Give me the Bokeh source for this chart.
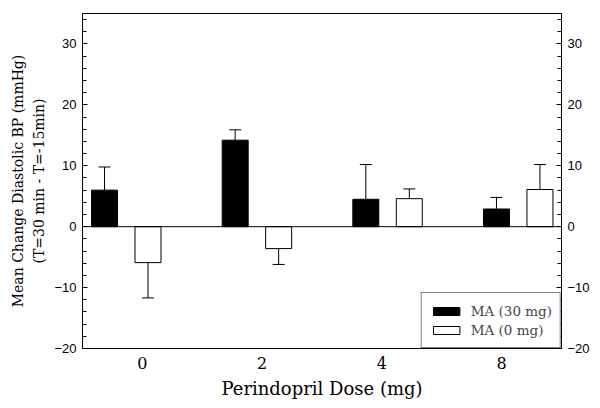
from bokeh.plotting import figure
from bokeh.models import (Range1d, LinearAxis, FixedTicker, SingleIntervalTicker,
                          Whisker, TeeHead, Span, Legend, LegendItem, ColumnDataSource)
from bokeh.embed import file_html
from bokeh.resources import INLINE

# ---- data ----
doses = ["0", "2", "4", "8"]
ma30_mean = [6.0, 14.2, 4.5, 2.9]
ma30_err = [3.8, 1.7, 5.7, 1.9]
ma0_mean = [-5.9, -3.6, 4.6, 6.1]
ma0_err = [5.8, 2.6, 1.6, 4.1]
series_names = ["MA (30 mg)", "MA (0 mg)"]

# ---- layout constants ----
n = len(doses)
step = 1.091
off30 = 0.184
off0 = 0.547
bar_w = 0.217

SERIF = "DejaVu Serif"
SANS = "Liberation Sans"

p = figure(width=600, height=408, output_backend="svg", toolbar_location=None,
           x_range=Range1d(0, n), y_range=Range1d(-20, 35),
           min_border_left=82, min_border_right=39, min_border_top=13,
           min_border_bottom=60)
p.xgrid.visible = False
p.ygrid.visible = False
p.outline_line_color = "black"
p.outline_line_width = 1
p.background_fill_color = "white"
p.border_fill_color = "white"

x30 = [off30 + i * step for i in range(n)]
x0 = [off0 + i * step for i in range(n)]

src30 = ColumnDataSource(dict(x=x30, top=ma30_mean))
src0 = ColumnDataSource(dict(x=x0, top=ma0_mean))

r30 = p.vbar(x="x", top="top", bottom=0, width=bar_w, source=src30,
             fill_color="black", line_color="black", line_width=1)
r0 = p.vbar(x="x", top="top", bottom=0, width=bar_w, source=src0,
            fill_color="white", line_color="black", line_width=1)

# error bars: one-sided, away from zero
xs, means, errs = x30 + x0, ma30_mean + ma0_mean, ma30_err + ma0_err
pos = dict(base=[], lower=[], upper=[])
neg = dict(base=[], lower=[], upper=[])
for x, m, e in zip(xs, means, errs):
    if m >= 0:
        pos["base"].append(x); pos["lower"].append(m); pos["upper"].append(m + e)
    else:
        neg["base"].append(x); neg["lower"].append(m - e); neg["upper"].append(m)

p.add_layout(Whisker(source=ColumnDataSource(pos), base="base", lower="lower", upper="upper",
                     upper_head=TeeHead(size=12, line_color="black", line_width=1),
                     lower_head=None, line_color="black", line_width=1))
p.add_layout(Whisker(source=ColumnDataSource(neg), base="base", lower="lower", upper="upper",
                     lower_head=TeeHead(size=12, line_color="black", line_width=1),
                     upper_head=None, line_color="black", line_width=1))

p.add_layout(Span(location=0, dimension="width", line_color="black", line_width=1))

# axes
yticker = SingleIntervalTicker(interval=10, num_minor_ticks=5)
p.yaxis[0].ticker = yticker
ry = LinearAxis(ticker=yticker)
p.add_layout(ry, "right")
for ax in [p.yaxis[0], ry]:
    ax.major_label_text_font = SANS
    ax.major_label_text_font_size = "13px"
    ax.major_label_text_color = "black"
    ax.axis_line_color = "black"
    ax.major_tick_line_color = "black"
    ax.minor_tick_line_color = "black"
    ax.major_tick_out = 0
    ax.major_tick_in = 5
    ax.minor_tick_out = 0
    ax.minor_tick_in = 4
    ax.major_label_standoff = 6

p.yaxis[0].axis_label = "Mean Change Diastolic BP (mmHg)\n(T=30 min - T=-15min)"
p.yaxis[0].axis_label_text_font = SERIF
p.yaxis[0].axis_label_text_font_size = "14px"
p.yaxis[0].axis_label_text_line_height = 1.35
p.yaxis[0].axis_label_text_font_style = "normal"
p.yaxis[0].axis_label_text_color = "black"
p.yaxis[0].axis_label_standoff = 4

xa = p.xaxis[0]
tick_pos = [i + 0.5 for i in range(n)]
xa.ticker = FixedTicker(ticks=tick_pos)
xa.major_label_overrides = {t: d for t, d in zip(tick_pos, doses)}
xa.major_tick_out = 0
xa.major_tick_in = 0
xa.minor_tick_line_color = None
xa.axis_line_color = "black"
xa.major_label_text_font = SERIF
xa.major_label_text_font_size = "16px"
xa.major_label_text_color = "black"
xa.major_label_standoff = 8
xa.axis_label = "Perindopril Dose (mg)"
xa.axis_label_text_font = SERIF
xa.axis_label_text_font_size = "18px"
xa.axis_label_text_font_style = "normal"
xa.axis_label_text_color = "black"
xa.axis_label_standoff = 6

legend = Legend(items=[LegendItem(label=series_names[0], renderers=[r30]),
                       LegendItem(label=series_names[1], renderers=[r0])],
                location="bottom_right", margin=0, padding=8, spacing=0,
                glyph_width=33, glyph_height=10, label_standoff=8, label_height=19,
                label_text_font=SERIF, label_text_font_size="13.5px",
                border_line_color="black", border_line_width=1,
                background_fill_color="white", background_fill_alpha=1)
p.add_layout(legend)

open("out.html", "w").write(file_html(p, INLINE))
